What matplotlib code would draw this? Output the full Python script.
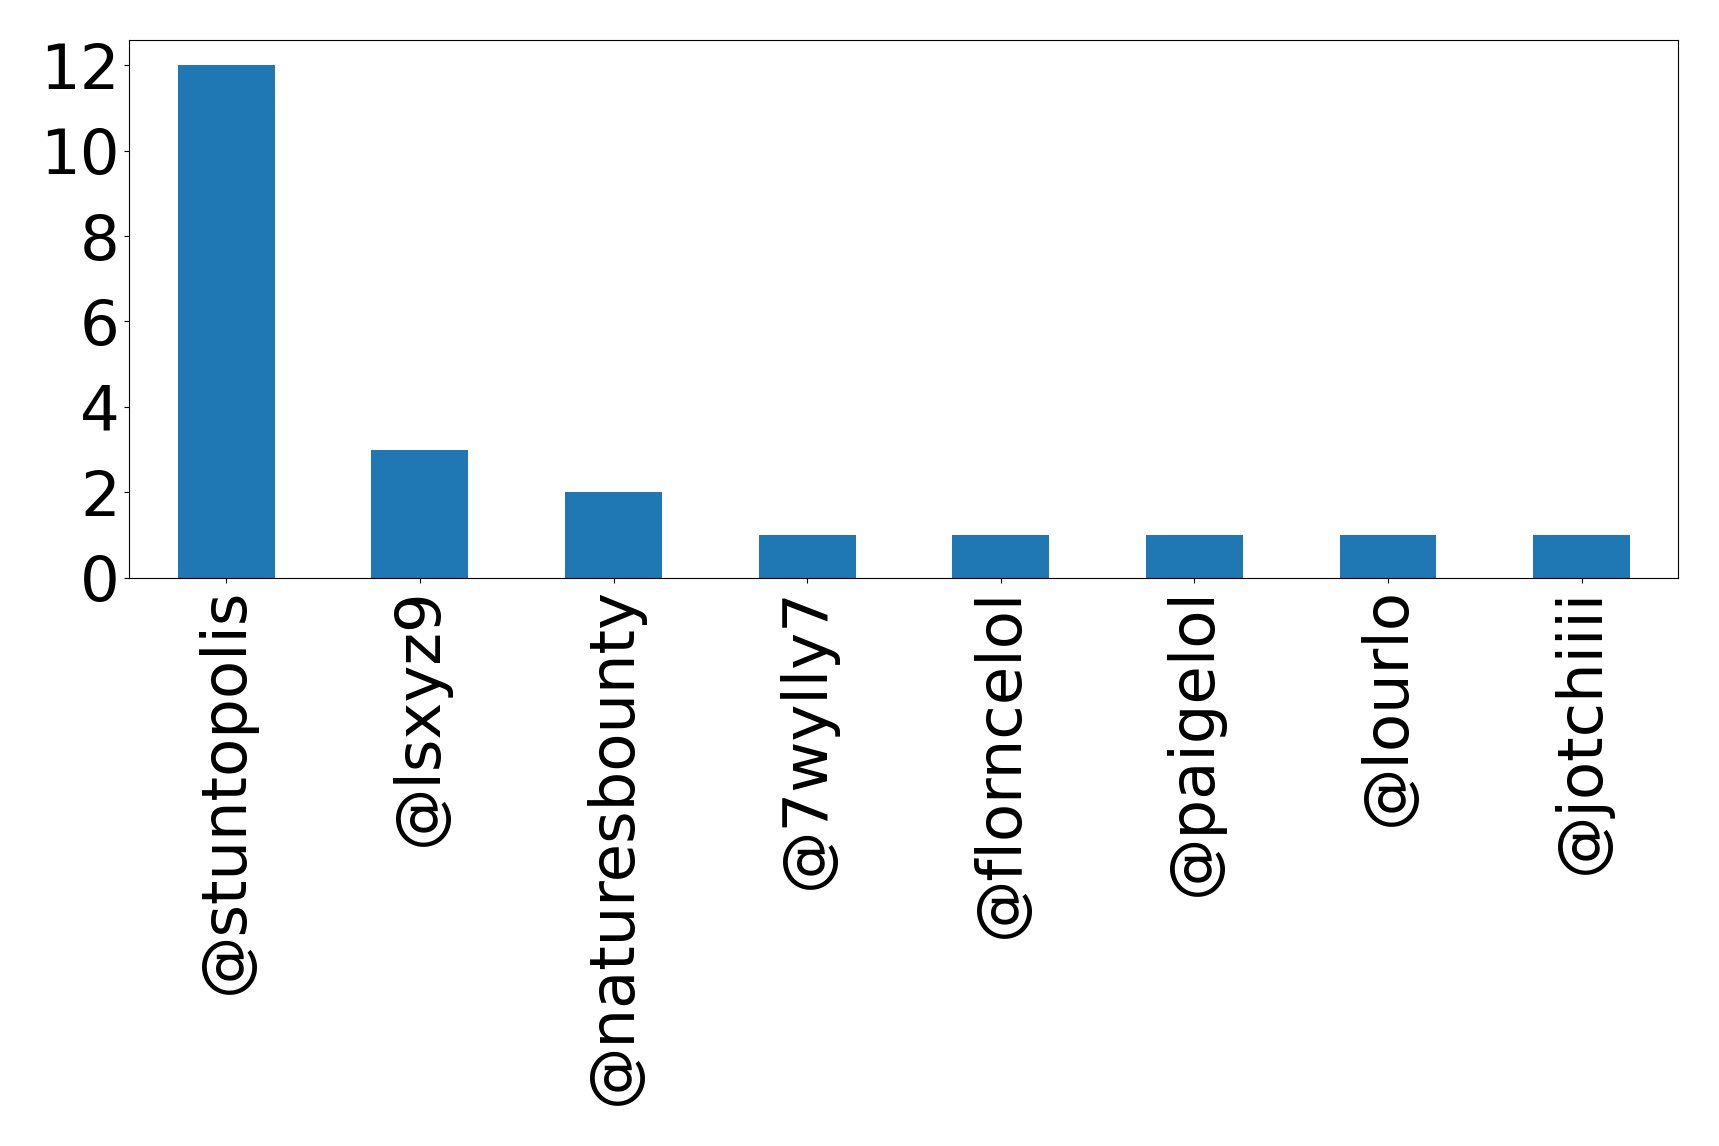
import matplotlib
matplotlib.use("Agg")
import matplotlib.pyplot as plt

# Mention counts per account
accounts = ["@stuntopolis", "@lsxyz9", "@naturesbounty", "@7wylly7",
            "@florncelol", "@paigelol", "@lourlo", "@jotchiiii"]
counts = [12, 3, 2, 1, 1, 1, 1, 1]

fig = plt.figure(figsize=(17.19, 11.46), dpi=100)
ax = fig.add_axes([0.0753, 0.4959, 0.9764 - 0.0753, 0.9655 - 0.4959])

positions = list(range(len(accounts)))
ax.bar(positions, counts, width=0.5, color="#1f77b4")
ax.set_xlim(-0.5, len(accounts) - 0.5)
ax.set_ylim(0, max(counts) * 1.05)
ax.set_xticks(positions)
ax.set_xticklabels(accounts, rotation=90)
ax.set_yticks([0, 2, 4, 6, 8, 10, 12])
ax.tick_params(axis="both", labelsize=45)

fig.savefig("out.png", dpi=100)
